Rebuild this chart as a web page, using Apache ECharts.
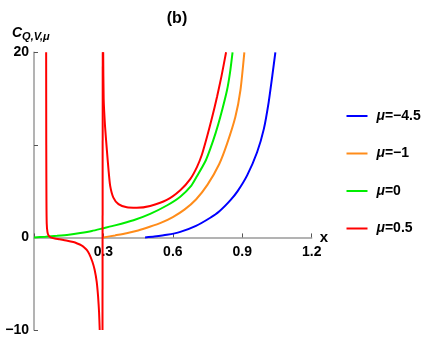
<!DOCTYPE html>
<html>
<head>
<meta charset="utf-8">
<script src="https://cdn.jsdelivr.net/npm/echarts@6/dist/echarts.min.js"></script>
<style>html,body{margin:0;padding:0;background:#fff;}#c{width:431px;height:342px;}</style>
</head>
<body>
<div id="c"></div>
<script>
// ---- data ----
const seriesNames = ['μ=−4.5', 'μ=−1', 'μ=0', 'μ=0.5'];
const seriesColors = ['#0000ff', '#ff8c1a', '#00ee00', '#ff0000'];
const xTicks = [0, 0.3, 0.6, 0.9, 1.2];
const yTicks = [-10, 0, 10, 20];

const blueX = [0.48, 0.52, 0.574, 0.632, 0.7, 0.76, 0.8, 0.848, 0.88, 0.921, 0.964, 0.993, 1.014, 1.03, 1.043];
const blueY = [0, 0.1, 0.28, 0.6, 1.25, 2.1, 2.8, 4.0, 5.0, 6.7, 9.2, 11.7, 14.6, 17.5, 20];

const orangeX = [0.3, 0.35, 0.4, 0.45, 0.5, 0.55, 0.6, 0.65, 0.7, 0.75, 0.8, 0.834, 0.87, 0.892, 0.909];
const orangeY = [0, 0.22, 0.45, 0.75, 1.15, 1.6, 2.2, 3.0, 4.1, 5.7, 7.9, 10.1, 13.0, 15.9, 20];

const greenX = [0, 0.05, 0.1, 0.15, 0.2, 0.25, 0.3, 0.35, 0.43, 0.502, 0.574, 0.632, 0.68, 0.704, 0.74, 0.762, 0.785, 0.805, 0.834, 0.847, 0.858];
const greenY = [0, 0.08, 0.18, 0.3, 0.48, 0.7, 1.0, 1.3, 1.86, 2.55, 3.45, 4.4, 5.6, 6.6, 8.2, 9.6, 11.3, 13.0, 15.9, 17.8, 20];

// red (μ=0.5) has three branches separated by poles
const red1X = [0.0525, 0.053, 0.0538, 0.055, 0.058, 0.063, 0.072, 0.09, 0.11, 0.144, 0.17, 0.187, 0.205, 0.216, 0.228, 0.238, 0.252, 0.262, 0.271, 0.277, 0.281, 0.284];
const red1Y = [20, 10, 4, 1.5, 0.6, 0.2, 0, -0.12, -0.2, -0.35, -0.5, -0.65, -0.85, -1.05, -1.35, -1.75, -2.6, -3.5, -4.8, -6.4, -8.0, -10];
const red2X = [0.296, 0.297];
const red2Y = [-10, 20];
const red3X = [0.299, 0.301, 0.307, 0.315, 0.322, 0.329, 0.343, 0.365, 0.401, 0.444, 0.502, 0.574, 0.632, 0.675, 0.704, 0.725, 0.748, 0.77, 0.791, 0.81, 0.83];
const red3Y = [20, 15, 12, 9.4, 7.3, 5.6, 4.3, 3.6, 3.25, 3.2, 3.4, 4.05, 5.1, 6.3, 7.6, 8.9, 10.9, 13.0, 15.2, 17.4, 20];

function pairs(xs, ys) { return xs.map((x, i) => [x, ys[i]]); }

const FONT = 'Liberation Sans, Arial, sans-serif';
const AXIS = '#9a9a9a';
const GRID = { left: 34, right: 119.3, top: 52.3, bottom: 12 };
const plotH = 342 - GRID.top - GRID.bottom;
// x axis sits on y = 0
const zeroOffset = -plotH * (0 - yTicks[0]) / (yTicks[yTicks.length - 1] - yTicks[0]);

function line(name, color, xs, ys) {
  return {
    type: 'line', name: name, data: pairs(xs, ys), symbol: 'none',
    smooth: 0.2, clip: true,
    lineStyle: { color: color, width: 2 }, itemStyle: { color: color }
  };
}

const chart = echarts.init(document.getElementById('c'), null, { renderer: 'canvas' });
chart.setOption({
  animation: false,
  backgroundColor: '#fff',
  title: {
    text: '(b)', left: 172, top: 6, textAlign: 'center',
    textStyle: { fontFamily: FONT, fontWeight: 'bold', fontSize: 16, color: '#000' }
  },
  grid: Object.assign({ outerBoundsMode: 'none', containLabel: false }, GRID),
  legend: {
    orient: 'vertical', left: 341.5, top: 103, itemGap: 21.5,
    itemWidth: 21, itemHeight: 2, icon: 'rect',
    data: seriesNames,
    formatter: function (n) { return '{i|μ}{b|' + n.slice(1) + '}'; },
    textStyle: {
      fontFamily: FONT, fontSize: 14, fontWeight: 'bold', color: '#000', lineHeight: 16, padding: [0, 0, 0, 4],
      rich: {
        i: { fontFamily: FONT, fontSize: 14, fontWeight: 'bold', fontStyle: 'italic', color: '#000', lineHeight: 16 },
        b: { fontFamily: FONT, fontSize: 14, fontWeight: 'bold', color: '#000', lineHeight: 16 }
      }
    }
  },
  graphic: [{
    type: 'text', left: 12, top: 26,
    style: {
      text: '{c|C}{s|Q,V,μ}',
      rich: {
        c: { fontFamily: FONT, fontSize: 14, fontWeight: 'bold', fontStyle: 'italic', fill: '#000' },
        s: { fontFamily: FONT, fontSize: 11, fontWeight: 'bold', fontStyle: 'italic', fill: '#000', padding: [8, 0, 0, 0] }
      }
    }
  }],
  xAxis: {
    type: 'value', min: xTicks[0], max: xTicks[xTicks.length - 1], interval: 0.3,
    position: 'bottom', offset: zeroOffset,
    name: 'x', nameLocation: 'end', nameGap: 8,
    nameTextStyle: { fontFamily: FONT, fontSize: 15, fontWeight: 'bold', color: '#000', padding: [4, 0, 0, 0] },
    axisLine: { onZero: false, lineStyle: { color: AXIS, width: 1.5 } },
    axisTick: { inside: true, length: 4, lineStyle: { color: '#555', width: 1 } },
    axisLabel: {
      margin: 8, fontFamily: FONT, fontSize: 14, fontWeight: 'bold', color: '#000',
      formatter: function (v) { return v === 0 ? '' : v.toFixed(1); }
    },
    splitLine: { show: false }
  },
  yAxis: {
    type: 'value', min: yTicks[0], max: yTicks[yTicks.length - 1], interval: 10,
    axisLine: { show: true, onZero: false, lineStyle: { color: AXIS, width: 1.5 } },
    axisTick: { show: true, inside: true, length: 4, lineStyle: { color: '#555', width: 1 } },
    axisLabel: {
      margin: 5, fontFamily: FONT, fontSize: 14, fontWeight: 'bold', color: '#000',
      formatter: function (v) { return v === 10 ? '' : (v < 0 ? '−' + Math.abs(v) : String(v)); }
    },
    splitLine: { show: false }
  },
  series: [
    line(seriesNames[0], seriesColors[0], blueX, blueY),
    line(seriesNames[1], seriesColors[1], orangeX, orangeY),
    line(seriesNames[2], seriesColors[2], greenX, greenY),
    line(seriesNames[3], seriesColors[3], red1X, red1Y),
    line(seriesNames[3], seriesColors[3], red2X, red2Y),
    line(seriesNames[3], seriesColors[3], red3X, red3Y)
  ]
});
</script>
</body>
</html>
